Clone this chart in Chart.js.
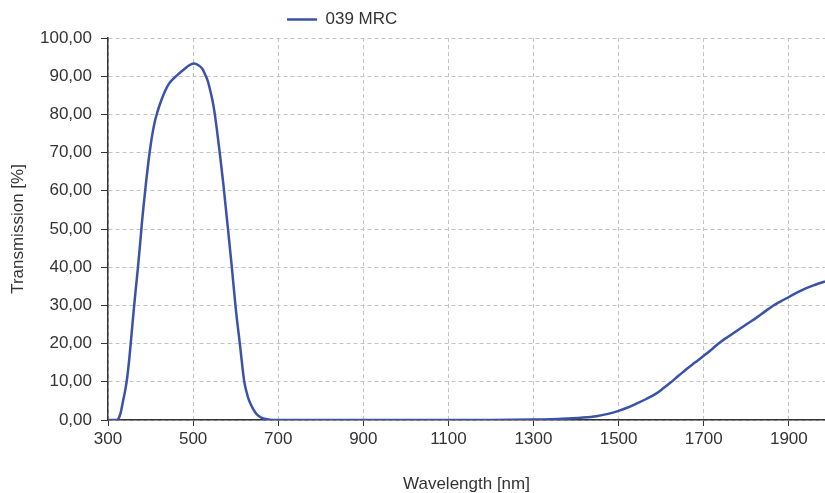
<!doctype html>
<html lang="en">
  <head>
    <meta charset="utf-8">
    <title>039 MRC Transmission</title>
    <style>
      * {
        margin: 0;
        padding: 0;
      }
      body {
        background: white;
      }
      .chartBox {
        width: 825px;
        height: 493px;
      }
    </style>
  </head>
  <body>
    <div class="chartBox">
      <canvas id="myChart" width="825" height="493"></canvas>
    </div>

    <script src="https://cdn.jsdelivr.net/npm/chart.js"></script>
    <script>
    // data
    const seriesName = '039 MRC';
    const wavelength = [
      300, 310, 320, 325, 330, 335, 340, 345, 350, 355, 360, 365, 370, 375, 380, 385,
      390, 395, 400, 405, 410, 415, 420, 428, 435, 443, 455, 467, 480, 490, 502, 512,
      522, 528, 534, 540, 546, 550, 555, 563, 571, 581, 591, 600, 610, 620, 625, 630,
      636, 642, 648, 655, 665, 680, 700, 800, 900, 1000, 1100, 1200, 1300, 1340, 1380,
      1410, 1448, 1475, 1500, 1520, 1542, 1565, 1588, 1605, 1620, 1640, 1659, 1680, 1700,
      1720, 1738, 1760, 1785, 1805, 1824, 1845, 1863, 1880, 1900, 1920, 1941, 1962, 1985
    ];
    const transmission = [
      0, 0, 0, 0.4, 2, 4.8, 7.5, 11, 16, 22, 28.2, 34, 39.5, 45.5, 52, 57.5,
      62.8, 67.6, 71.8, 75.3, 78.1, 80.2, 82, 84.5, 86.3, 88, 89.5, 90.7, 91.9, 92.8, 93.3, 92.9,
      91.9, 90.5, 88.9, 86.4, 83.4, 80.8, 76.8, 69.6, 61.8, 51, 40, 29.4, 19.8, 10.2, 7.6, 5.6,
      4.0, 2.7, 1.7, 1.0, 0.4, 0.1, 0, 0, 0, 0, 0, 0, 0.1, 0.2, 0.4,
      0.6, 1.0, 1.6, 2.4, 3.2, 4.3, 5.5, 6.9, 8.3, 9.6, 11.5, 13.3, 15.1, 16.8,
      18.6, 20.3, 22.0, 23.9, 25.4, 26.8, 28.5, 29.9, 31.0, 32.2, 33.4, 34.5, 35.4, 36.3
    ];
    const xTicks = [300, 500, 700, 900, 1100, 1300, 1500, 1700, 1900];
    const yTicks = [0, 10, 20, 30, 40, 50, 60, 70, 80, 90, 100];

    const lineColor = '#3a52a8';
    const textColor = '#333333';
    const font = { family: "'Liberation Sans', Arial, sans-serif", size: 17 };

    // the legend sits left of centre in the original
    const legendShift = {
      id: 'legendShift',
      afterUpdate(chart) {
        const lg = chart.legend;
        if (!lg || !lg.lineWidths) return;
        const pad = lg.options.labels.padding;
        const startX = (lg.left + pad + lg.right - lg.lineWidths[0]) / 2;
        const dx = 287 - startX;
        lg.left += dx;
        lg.right += dx;
      }
    };

    const data = {
      datasets: [{
        label: seriesName,
        data: wavelength.map((w, i) => ({ x: w, y: transmission[i] })),
        borderColor: lineColor,
        backgroundColor: lineColor,
        borderWidth: 2.5,
        pointRadius: 0,
        pointStyle: 'line',
        cubicInterpolationMode: 'monotone',
        fill: false
      }]
    };

    const config = {
      type: 'line',
      data,
      options: {
        responsive: false,
        animation: false,
        layout: { padding: { top: 1, left: 0, right: 0, bottom: 0 } },
        plugins: {
          legend: {
            position: 'top',
            labels: {
              usePointStyle: true,
              pointStyleWidth: 30,
              boxHeight: 17,
              padding: 10,
              color: textColor,
              font
            }
          },
          tooltip: { enabled: false }
        },
        scales: {
          x: {
            type: 'linear',
            min: 300,
            max: 1985,
            afterBuildTicks: axis => { axis.ticks = xTicks.map(v => ({ value: v })); },
            afterFit: axis => { axis.height = 73; },
            ticks: { color: textColor, font, padding: 3, maxRotation: 0, callback: v => String(v) },
            grid: {
              color: '#c4c4c4',
              lineWidth: 1,
              tickLength: 6,
              tickColor: '#333333',
              tickBorderDash: []
            },
            border: { color: '#333333', width: 1.5, dash: [4, 3] },
            title: {
              display: true,
              text: 'Wavelength [nm]',
              color: textColor,
              font: { family: font.family, size: 17, lineHeight: 1 },
              padding: { top: 0, bottom: 0 }
            }
          },
          y: {
            type: 'linear',
            min: 0,
            max: 100,
            afterBuildTicks: axis => { axis.ticks = yTicks.map(v => ({ value: v })); },
            afterFit: axis => { axis.width = 108; },
            ticks: {
              color: textColor,
              font,
              padding: 9,
              callback: v => v.toFixed(2).replace('.', ',')
            },
            grid: {
              color: '#c4c4c4',
              lineWidth: 1,
              tickLength: 7,
              tickColor: '#333333',
              tickBorderDash: []
            },
            border: { color: '#333333', width: 1.5, dash: [4, 3] },
            title: {
              display: true,
              text: 'Transmission [%]',
              color: textColor,
              font: { family: font.family, size: 17, lineHeight: 1.2 },
              padding: { top: 8, bottom: 0 }
            }
          }
        }
      },
      plugins: [legendShift]
    };

    const myChart = new Chart(document.getElementById('myChart'), config);
    </script>
  </body>
</html>
